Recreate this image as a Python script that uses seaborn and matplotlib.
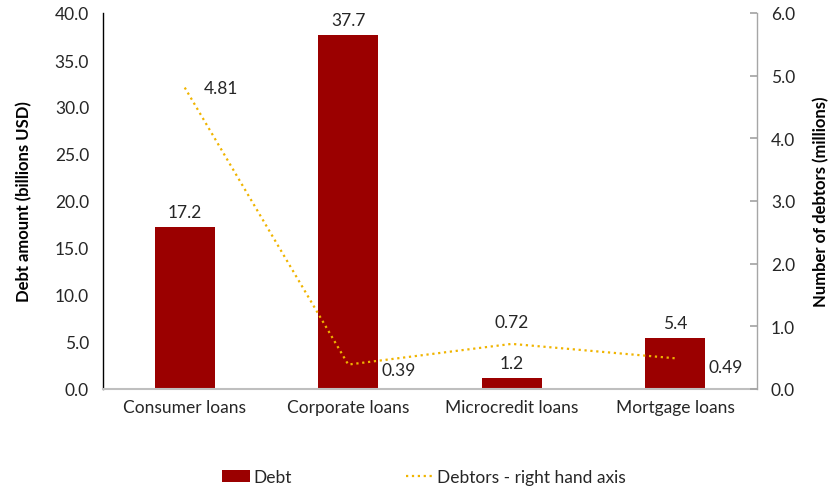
import matplotlib
matplotlib.use("Agg")
import matplotlib.pyplot as plt
import seaborn as sns
import pandas as pd
from matplotlib.patches import Patch
from matplotlib.lines import Line2D

categories = ["Consumer loans", "Corporate loans", "Microcredit loans", "Mortgage loans"]
debt_busd = [17.2, 37.7, 1.2, 5.4]
debtors_mn = [4.81, 0.39, 0.72, 0.49]

sns.set_theme(style="white")
plt.rcParams["font.family"] = ["Lato", "DejaVu Sans"]

BAR = "#9B0000"
LINE = "#F0B400"
TXT = "#262626"
FS = 12.5

df = pd.DataFrame({"cat": categories, "debt": debt_busd, "debtors": debtors_mn})

fig = plt.figure(figsize=(8.31, 4.89), dpi=100)
ax = fig.add_axes([103 / 831, 1 - 390 / 489, (757 - 103) / 831, (390 - 14) / 489])

sns.barplot(data=df, x="cat", y="debt", color=BAR, width=0.37, ax=ax,
            saturation=1, edgecolor="none")
ax.set_xlim(-0.5, 3.5)
ax.set_ylim(0, 40)
ax.set_yticks([0, 5, 10, 15, 20, 25, 30, 35, 40])
ax.set_yticklabels([f"{v:.1f}" for v in ax.get_yticks()], fontsize=FS, color=TXT)
ax.set_xlabel("")
ax.set_ylabel("Debt amount (billions USD)", fontsize=12, fontweight="bold",
              color="black", labelpad=16)
ax.tick_params(axis="x", length=0, labelsize=FS, labelcolor=TXT, pad=7)
ax.tick_params(axis="y", length=0, pad=10)
for s in ["top", "right"]:
    ax.spines[s].set_visible(False)
ax.spines["left"].set_color("black")
ax.spines["left"].set_linewidth(1.0)
ax.spines["bottom"].set_color("#BFBFBF")
ax.spines["bottom"].set_linewidth(1.5)

for i, v in enumerate(debt_busd):
    ax.annotate(f"{v:.1f}", (i, v), xytext=(0, 5), textcoords="offset points",
                ha="center", va="bottom", fontsize=FS, color=TXT)

ax2 = ax.twinx()
sns.lineplot(x=list(range(len(categories))), y=debtors_mn, ax=ax2, color=LINE,
             linestyle=":", linewidth=1.6)
ax2.set_xlim(-0.5, 3.5)
ax2.set_ylim(0, 6)
ax2.set_yticks([0, 1, 2, 3, 4, 5, 6])
ax2.set_yticklabels([f"{v:.1f}" for v in range(7)], fontsize=FS, color=TXT)
ax2.set_ylabel("Number of debtors (millions)", fontsize=12, fontweight="bold",
               color="black", labelpad=13)
ax2.tick_params(axis="y", direction="in", length=5, color="#A6A6A6", pad=10)
for s in ["top", "left", "bottom"]:
    ax2.spines[s].set_visible(False)
ax2.spines["right"].set_color("#A6A6A6")
ax2.spines["right"].set_linewidth(1.0)

offsets = [(14, 0, "left", "center"), (24, -4, "left", "center"),
           (0, 10, "center", "bottom"), (24, -6, "left", "center")]
for i, (v, (dx, dy, ha, va)) in enumerate(zip(debtors_mn, offsets)):
    ax2.annotate(f"{v:.2f}", (i, v), xytext=(dx, dy), textcoords="offset points",
                 ha=ha, va=va, fontsize=FS, color=TXT)

handles = [Patch(facecolor=BAR, edgecolor="none"),
           Line2D([0], [0], color=LINE, linestyle=":", linewidth=1.6)]
fig.legend(handles, ["Debt", "Debtors - right hand axis"], loc="center",
           bbox_to_anchor=(424 / 831, 1 - 478 / 489), ncol=2, frameon=False,
           fontsize=FS, columnspacing=6.6, handlelength=1.6, handletextpad=0.2,
           labelcolor=TXT)

fig.savefig("out.png", dpi=100)
